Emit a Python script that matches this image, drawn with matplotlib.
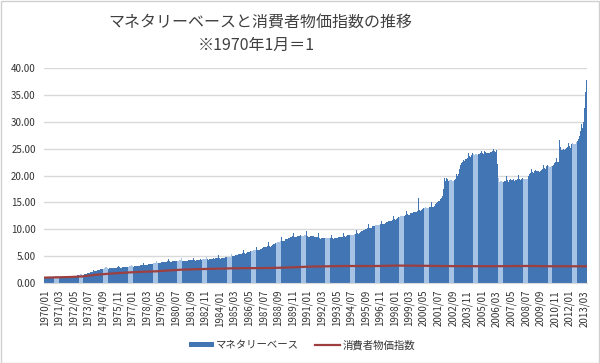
import matplotlib
matplotlib.use("Agg")
import matplotlib.pyplot as plt
from matplotlib.patches import Rectangle
import numpy as np

plt.rcParams['font.family'] = ['Noto Sans CJK JP', 'DejaVu Sans']

title = "マネタリーベースと消費者物価指数の推移"
subtitle = "※1970年1月＝1"
mb_label = "マネタリーベース"
cpi_label = "消費者物価指数"

start_year = 1970

# Monetary base, monthly (1970/01 = 1)
mb_1970s = [
    1.00, 0.97, 0.99, 1.01, 1.01, 1.02, 1.04, 1.03, 1.04, 1.05, 1.07, 1.22,
    1.07, 1.04, 1.06, 1.08, 1.08, 1.09, 1.11, 1.10, 1.11, 1.13, 1.15, 1.32,
    1.18, 1.16, 1.20, 1.24, 1.26, 1.29, 1.34, 1.36, 1.40, 1.44, 1.48, 1.70,
    1.58, 1.56, 1.62, 1.70, 1.75, 1.80, 1.90, 1.92, 1.96, 2.02, 2.08, 2.40,
    2.22, 2.18, 2.26, 2.36, 2.42, 2.48, 2.58, 2.58, 2.62, 2.66, 2.70, 3.05,
    2.72, 2.66, 2.70, 2.76, 2.76, 2.78, 2.84, 2.81, 2.83, 2.86, 2.89, 3.20,
    2.90, 2.84, 2.88, 2.95, 2.95, 2.97, 3.03, 3.00, 3.02, 3.05, 3.08, 3.40,
    3.08, 3.02, 3.07, 3.14, 3.15, 3.18, 3.25, 3.23, 3.26, 3.30, 3.34, 3.70,
    3.34, 3.28, 3.35, 3.44, 3.46, 3.50, 3.59, 3.58, 3.61, 3.66, 3.71, 4.10,
    3.72, 3.66, 3.72, 3.80, 3.82, 3.86, 3.95, 3.93, 3.96, 4.00, 4.05, 4.45,
]
mb_1980s = [
    4.05, 3.96, 4.00, 4.06, 4.06, 4.08, 4.15, 4.12, 4.14, 4.17, 4.20, 4.62,
    4.15, 4.06, 4.10, 4.16, 4.15, 4.17, 4.23, 4.20, 4.21, 4.24, 4.27, 4.72,
    4.25, 4.16, 4.21, 4.28, 4.28, 4.31, 4.38, 4.36, 4.38, 4.41, 4.45, 4.92,
    4.42, 4.33, 4.38, 4.46, 4.46, 4.49, 4.56, 4.54, 4.56, 4.60, 4.64, 5.12,
    4.62, 4.53, 4.59, 4.68, 4.69, 4.73, 4.82, 4.80, 4.83, 4.88, 4.93, 5.45,
    5.05, 4.97, 5.05, 5.16, 5.19, 5.25, 5.36, 5.36, 5.41, 5.48, 5.55, 6.10,
    5.55, 5.47, 5.56, 5.69, 5.73, 5.80, 5.93, 5.93, 5.99, 6.07, 6.15, 6.78,
    6.15, 6.07, 6.18, 6.33, 6.38, 6.46, 6.61, 6.62, 6.69, 6.78, 6.88, 7.55,
    6.88, 6.79, 6.92, 7.10, 7.17, 7.27, 7.44, 7.46, 7.55, 7.66, 7.78, 8.50,
    7.85, 7.76, 7.90, 8.10, 8.16, 8.26, 8.42, 8.42, 8.49, 8.58, 8.68, 9.35,
]
mb_1990s = [
    8.65, 8.52, 8.60, 8.75, 8.76, 8.78, 8.88, 8.82, 8.82, 8.84, 8.86, 9.60,
    8.70, 8.55, 8.60, 8.70, 8.68, 8.66, 8.72, 8.64, 8.62, 8.62, 8.64, 9.25,
    8.40, 8.25, 8.28, 8.38, 8.35, 8.32, 8.38, 8.30, 8.28, 8.29, 8.32, 8.95,
    8.38, 8.26, 8.32, 8.46, 8.45, 8.46, 8.55, 8.51, 8.52, 8.56, 8.62, 9.30,
    8.72, 8.60, 8.68, 8.84, 8.85, 8.88, 8.98, 8.95, 8.98, 9.04, 9.12, 9.90,
    9.30, 9.20, 9.35, 9.55, 9.62, 9.70, 9.86, 9.88, 9.96, 10.06, 10.18, 10.95,
    10.30, 10.20, 10.32, 10.52, 10.56, 10.61, 10.75, 10.72, 10.76, 10.82, 10.92, 11.60,
    11.00, 10.90, 11.02, 11.22, 11.26, 11.32, 11.47, 11.45, 11.50, 11.58, 11.70, 12.50,
    11.90, 11.80, 11.94, 12.16, 12.20, 12.26, 12.42, 12.40, 12.46, 12.55, 12.68, 13.40,
    12.75, 12.62, 12.74, 12.95, 12.98, 13.02, 13.15, 13.12, 13.15, 13.22, 13.45, 15.80,
]
mb_2000s = [
    13.60, 13.45, 13.58, 13.85, 13.88, 13.92, 14.05, 13.98, 14.00, 14.06, 14.18, 15.05,
    14.20, 14.10, 14.30, 14.70, 14.85, 15.00, 15.25, 15.30, 15.60, 15.80, 16.10, 17.50,
    19.50, 18.90, 19.60, 19.30, 19.00, 19.10, 19.20, 18.90, 19.00, 19.10, 19.40, 20.30,
    20.00, 20.20, 21.30, 22.00, 22.30, 22.60, 22.80, 22.70, 23.00, 23.10, 23.30, 24.20,
    23.60, 23.40, 23.90, 24.10, 24.00, 23.90, 24.00, 23.80, 24.00, 24.00, 24.10, 24.60,
    24.10, 24.00, 24.50, 24.40, 24.20, 24.20, 24.20, 24.10, 24.30, 24.40, 24.50, 25.00,
    24.50, 24.30, 24.70, 22.20, 19.50, 18.80, 18.90, 18.70, 18.80, 18.90, 19.00, 19.90,
    19.10, 18.80, 19.20, 19.40, 19.20, 19.20, 19.30, 19.00, 19.10, 19.20, 19.30, 20.10,
    19.30, 19.10, 19.40, 19.50, 19.30, 19.30, 19.40, 19.30, 19.90, 20.30, 20.50, 21.20,
    20.60, 20.50, 20.80, 21.00, 20.90, 20.80, 20.90, 20.70, 20.90, 21.00, 21.30, 21.90,
]
mb_2010s = [
    21.40, 21.30, 21.70, 21.90, 21.70, 21.60, 21.80, 21.70, 22.00, 22.30, 22.50, 23.20,
    22.60, 22.50, 26.60, 25.30, 24.80, 24.70, 24.90, 24.70, 24.90, 25.10, 25.30, 26.00,
    25.40, 25.20, 25.80, 26.00, 25.80, 25.90, 26.30, 26.40, 26.80, 27.40, 28.20, 29.60,
    28.80, 30.00, 32.50, 35.50, 37.80,
]

# Consumer price index, January of each year (1970/01 = 1), last = 2013/05
cpi_years = [1970, 1971, 1972, 1973, 1974, 1975, 1976, 1977, 1978, 1979,
             1980, 1981, 1982, 1983, 1984, 1985, 1986, 1987, 1988, 1989,
             1990, 1991, 1992, 1993, 1994, 1995, 1996, 1997, 1998, 1999,
             2000, 2001, 2002, 2003, 2004, 2005, 2006, 2007, 2008, 2009,
             2010, 2011, 2012, 2013]
cpi_months = [1] * 44
cpi_values = [1.00, 1.06, 1.11, 1.22, 1.50, 1.70, 1.86, 2.00, 2.10, 2.18,
              2.35, 2.48, 2.56, 2.62, 2.67, 2.73, 2.76, 2.77, 2.79, 2.85,
              2.93, 3.03, 3.08, 3.13, 3.16, 3.16, 3.15, 3.18, 3.24, 3.23,
              3.21, 3.18, 3.15, 3.14, 3.13, 3.13, 3.13, 3.14, 3.16, 3.17,
              3.12, 3.11, 3.12, 3.10]
cpi_last = (2013, 5, 3.12)

mb = mb_1970s + mb_1980s + mb_1990s + mb_2000s + mb_2010s
n = len(mb)
labels = [f"{start_year + i // 12}/{i % 12 + 1:02d}" for i in range(n)]
tick_step = 14

cpi_x = [(y - start_year) * 12 + (m - 1) for y, m in zip(cpi_years, cpi_months)]
cpi_x.append((cpi_last[0] - start_year) * 12 + cpi_last[1] - 1)
cpi_y = cpi_values + [cpi_last[2]]

W, H = 600, 363
fig = plt.figure(figsize=(W / 100, H / 100), dpi=100)
ax = fig.add_axes([44 / W, 1 - 283 / H, (587 - 44) / W, (283 - 68) / H])

x = np.arange(n)
# light underlay gives the pale seams between bars
ax.bar(x, mb, width=1.0, color='#a6c2e4', linewidth=0, antialiased=False, zorder=1)
ax.bar(x, mb, width=0.8, color='#4275b3', linewidth=0, antialiased=False,
       label=mb_label, zorder=2)
ax.plot(cpi_x, cpi_y, color='#9e3f3f', linewidth=1.6, label=cpi_label, zorder=3)

ax.set_xlim(-0.5, n - 0.5)
ax.set_ylim(0, 40)
ax.set_yticks(np.arange(0, 41, 5))
ax.set_yticklabels([f"{v:.2f}" for v in np.arange(0, 41, 5)], fontsize=7, color='#333333')
ax.yaxis.grid(True, color='#d9d9d9', linewidth=1, zorder=0)
ax.set_axisbelow(True)

ticks = list(range(0, n, tick_step))
ax.set_xticks(ticks)
ax.set_xticklabels([labels[i] for i in ticks], rotation=90, fontsize=7, color='#333333')
ax.tick_params(axis='both', length=0)
ax.tick_params(axis='y', pad=6)
ax.tick_params(axis='x', pad=5)
for s in ['top', 'right', 'left']:
    ax.spines[s].set_visible(False)
ax.spines['bottom'].set_color('#d9d9d9')

fig.text(260 / W, 1 - 22 / H, title, ha='center', va='center', fontsize=11.5, color='#404040')
fig.text(256 / W, 1 - 45 / H, subtitle, ha='center', va='center', fontsize=11.5, color='#404040')

handles, lbls = ax.get_legend_handles_labels()
order = [lbls.index(mb_label), lbls.index(cpi_label)]
leg = fig.legend([handles[i] for i in order], [lbls[i] for i in order], loc='center',
                 bbox_to_anchor=(302 / W, 1 - 345 / H), ncol=2,
                 frameon=False, fontsize=7.5, handlelength=2.4, handleheight=0.5,
                 columnspacing=1.5, handletextpad=0.2, labelcolor='#333333')

fig.patches.append(Rectangle((0.5 / W, 0.5 / H), 1 - 1.5 / W, 1 - 1.5 / H, transform=fig.transFigure,
                             fill=False, edgecolor='#d0d0d0', linewidth=1))

fig.savefig("out.png", dpi=100)
